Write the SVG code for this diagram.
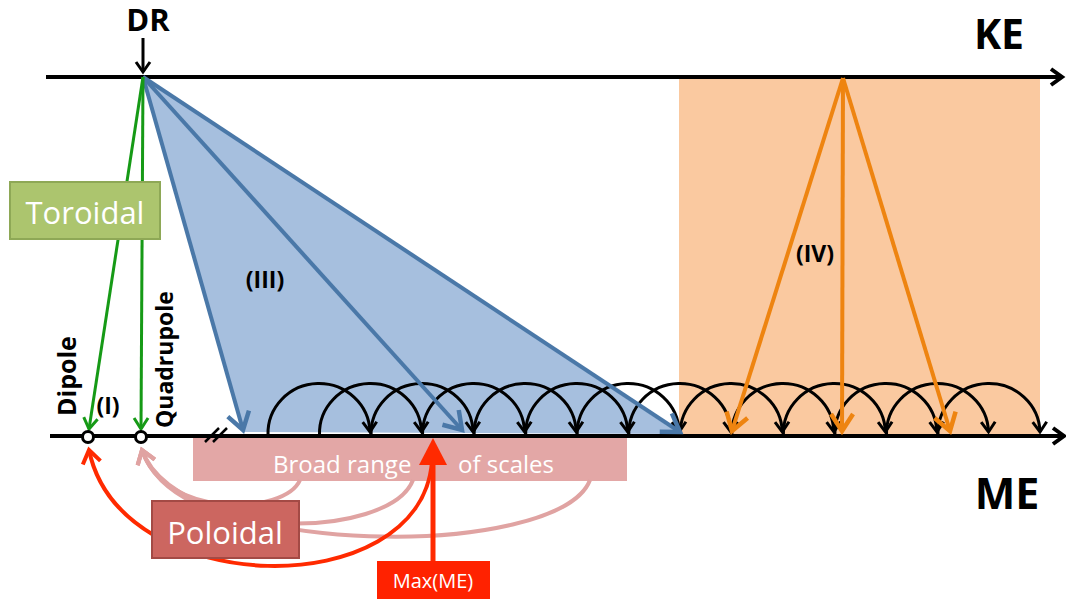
<svg xmlns="http://www.w3.org/2000/svg" width="1066" height="599" viewBox="0 0 1066 599">
<style>
.lbl{font-family:"Open Sans","Liberation Sans",sans-serif;font-weight:bold;fill:#000}
.box{font-family:"Open Sans","Liberation Sans",sans-serif;fill:#fff}
.axis{stroke:#000;stroke-width:4;fill:none}
.arc{stroke:#000;stroke-width:3;fill:none}
.blue{stroke:#4a78a8;stroke-width:4;fill:none}
.orange{stroke:#ee8410;stroke-width:4;fill:none}
.green{stroke:#169a16;stroke-width:3;fill:none}
</style>
<defs>
<marker id="mAxis" markerUnits="userSpaceOnUse" markerWidth="24" markerHeight="24" refX="0" refY="0" viewBox="-16 -12 20 24" orient="auto"><path d="M-11,-8 L0,0 L-11,8" fill="none" stroke="#000" stroke-width="4"/></marker>
<marker id="mArc" markerUnits="userSpaceOnUse" markerWidth="20" markerHeight="20" refX="0" refY="0" viewBox="-12 -10 14 20" orient="auto"><path d="M-10,-7 L0,0 L-10,7" fill="none" stroke="#000" stroke-width="3"/></marker>
<marker id="mBlue" markerUnits="userSpaceOnUse" markerWidth="30" markerHeight="30" refX="0" refY="0" viewBox="-20 -15 24 30" orient="auto"><path d="M-17,-11 L0,0 L-17,11" fill="none" stroke="#4a78a8" stroke-width="4.5"/></marker>
<marker id="mOrange" markerUnits="userSpaceOnUse" markerWidth="30" markerHeight="30" refX="0" refY="0" viewBox="-20 -15 24 30" orient="auto"><path d="M-17,-11 L0,0 L-17,11" fill="none" stroke="#ee8410" stroke-width="4.5"/></marker>
<marker id="mGreen" markerUnits="userSpaceOnUse" markerWidth="20" markerHeight="20" refX="0" refY="0" viewBox="-12 -10 14 20" orient="auto"><path d="M-11,-7 L0,0 L-11,7" fill="none" stroke="#169a16" stroke-width="3"/></marker>
<marker id="mBlack" markerUnits="userSpaceOnUse" markerWidth="20" markerHeight="20" refX="0" refY="0" viewBox="-12 -10 14 20" orient="auto"><path d="M-10,-7 L0,0 L-10,7" fill="none" stroke="#000" stroke-width="3"/></marker>
<marker id="mRed" markerUnits="userSpaceOnUse" markerWidth="24" markerHeight="24" refX="0" refY="0" viewBox="-16 -12 20 24" orient="auto"><path d="M-13,-9 L0,0 L-13,9" fill="none" stroke="#ff2a00" stroke-width="4"/></marker>
<marker id="mPink" markerUnits="userSpaceOnUse" markerWidth="24" markerHeight="24" refX="0" refY="0" viewBox="-16 -12 20 24" orient="auto"><path d="M-13,-9 L0,0 L-13,9" fill="none" stroke="#e0a3a2" stroke-width="4"/></marker>
</defs>

<g id="iv-region"><rect x="679" y="79" width="361" height="356" fill="#fac9a0"/></g>
<g id="iii-region"><polygon points="143,77 243,432 680,434" fill="#a6bfde" stroke="none"/></g>

<g id="broad-range">
<rect x="193" y="438" width="434" height="43" fill="#e3a7a6"/>
<text class="box" x="273" y="473" font-size="24">Broad range</text>
<text class="box" x="458" y="473" font-size="24">of scales</text>
</g>

<g id="connectors">
<path d="M300,480 C285,515 165,520 142,450" stroke="#e0a3a2" stroke-width="4" fill="none" marker-end="url(#mPink)"/>
<path d="M413,480 C390,540 175,545 142,450" stroke="#e0a3a2" stroke-width="4" fill="none" marker-end="url(#mPink)"/>
<path d="M590,480 C560,560 180,560 142,450" stroke="#e0a3a2" stroke-width="4" fill="none" marker-end="url(#mPink)"/>
<path d="M432,462 C420,605 120,600 89,450" stroke="#ff2a00" stroke-width="4" fill="none" marker-end="url(#mRed)"/>

<path class="axis" d="M46,77 L1062,77" marker-end="url(#mAxis)"/>
<path class="axis" d="M50,436 L1064,436" marker-end="url(#mAxis)"/>

<path class="arc" marker-end="url(#mArc)" d="M268,435 A51 50 0 0 1 370,432"/>
<path class="arc" marker-end="url(#mArc)" d="M319.5,435 A51 50 0 0 1 421.5,432"/>
<path class="arc" marker-end="url(#mArc)" d="M371.1,435 A51 50 0 0 1 473.1,432"/>
<path class="arc" marker-end="url(#mArc)" d="M422.6,435 A51 50 0 0 1 524.6,432"/>
<path class="arc" marker-end="url(#mArc)" d="M474.2,435 A51 50 0 0 1 576.2,432"/>
<path class="arc" marker-end="url(#mArc)" d="M525.7,435 A51 50 0 0 1 627.7,432"/>
<path class="arc" marker-end="url(#mArc)" d="M577.2,435 A51 50 0 0 1 679.2,432"/>
<path class="arc" marker-end="url(#mArc)" d="M628.8,435 A51 50 0 0 1 730.8,432"/>
<path class="arc" marker-end="url(#mArc)" d="M680.3,435 A51 50 0 0 1 782.3,432"/>
<path class="arc" marker-end="url(#mArc)" d="M731.9,435 A51 50 0 0 1 833.9,432"/>
<path class="arc" marker-end="url(#mArc)" d="M783.4,435 A51 50 0 0 1 885.4,432"/>
<path class="arc" marker-end="url(#mArc)" d="M834.9,435 A51 50 0 0 1 936.9,432"/>
<path class="arc" marker-end="url(#mArc)" d="M886.5,435 A51 50 0 0 1 988.5,432"/>
<path class="arc" marker-end="url(#mArc)" d="M938,435 A51 50 0 0 1 1040,432"/>

<path class="blue" d="M143,77 L243,430" marker-end="url(#mBlue)"/>
<path class="blue" d="M143,77 L462,430" marker-end="url(#mBlue)"/>
<path class="blue" d="M143,77 L680,432" marker-end="url(#mBlue)"/>

<path class="orange" d="M843,78 L732,431" marker-end="url(#mOrange)"/>
<path class="orange" d="M843,78 L842,431" marker-end="url(#mOrange)"/>
<path class="orange" d="M843,78 L950,431" marker-end="url(#mOrange)"/>

<path class="green" d="M143,77 L89,429" marker-end="url(#mGreen)"/>
<path class="green" d="M143,77 L141,429" marker-end="url(#mGreen)"/>

<path d="M143,38 L143,72" stroke="#000" stroke-width="3" fill="none" marker-end="url(#mBlack)"/>

<path d="M205,442 L219,428 M213,442 L227,428" stroke="#000" stroke-width="2.5"/>

<path d="M433,561 L433,462" stroke="#ff2a00" stroke-width="5"/>
<polygon points="433,438 419,465 447,465" fill="#ff2a00"/>
</g>

<g id="dipole">
<circle cx="88" cy="437" r="5.5" fill="#fff" stroke="#000" stroke-width="3"/>
<text class="lbl" font-size="25" transform="translate(76,416) rotate(-90)">Dipole</text>
</g>
<g id="quadrupole">
<circle cx="141" cy="437" r="5.5" fill="#fff" stroke="#000" stroke-width="3"/>
<text class="lbl" font-size="23" transform="translate(173,428) rotate(-90)">Quadrupole</text>
</g>

<g id="toroidal">
<rect x="10" y="182" width="150" height="57" fill="#acc56e" stroke="#8ea856" stroke-width="2"/>
<text class="box" x="85" y="224" font-size="31" text-anchor="middle">Toroidal</text>
</g>

<g id="poloidal">
<rect x="152" y="501" width="147" height="57" fill="#cc6660" stroke="#a34a45" stroke-width="2"/>
<text class="box" x="225" y="544" font-size="31" text-anchor="middle">Poloidal</text>
</g>

<g id="maxme">
<rect x="377" y="561" width="113" height="38" fill="#ff2200"/>
<text class="box" x="433" y="588" font-size="20" text-anchor="middle">Max(ME)</text>
</g>

<g id="labels">
<text class="lbl" x="148" y="31" font-size="31" text-anchor="middle">DR</text>
<text class="lbl" x="999" y="49" font-size="41" text-anchor="middle">KE</text>
<text class="lbl" x="1007" y="509" font-size="43" text-anchor="middle">ME</text>
<text class="lbl" x="265" y="288" font-size="23" text-anchor="middle">(III)</text>
<text class="lbl" x="815" y="262" font-size="23" text-anchor="middle">(IV)</text>
<text class="lbl" x="108" y="414" font-size="23" text-anchor="middle">(I)</text>
</g>
</svg>
